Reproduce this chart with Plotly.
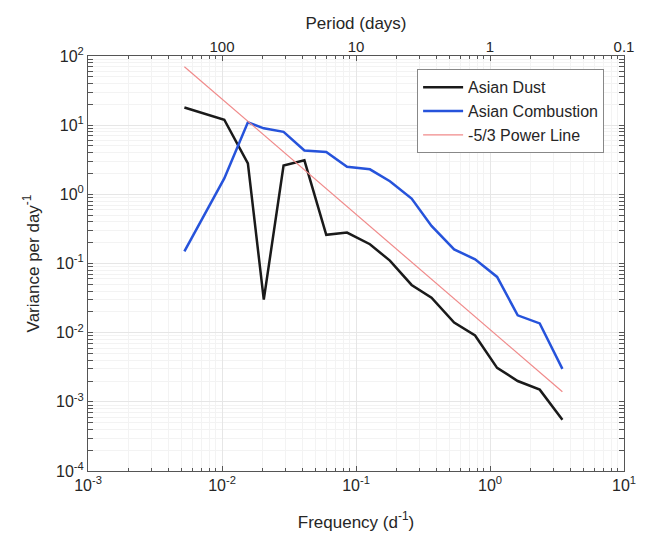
import plotly.graph_objects as go

freq = [0.00524, 0.0104, 0.0156, 0.0205, 0.0288, 0.0412, 0.060, 0.0857, 0.127,
        0.179, 0.26, 0.366, 0.54, 0.774, 1.13, 1.61, 2.35, 3.47]
asian_dust = [18, 12, 2.8, 0.03, 2.6, 3.1, 0.26, 0.28, 0.19,
              0.11, 0.049, 0.032, 0.014, 0.0091, 0.0031, 0.002, 0.0015, 0.00055]
asian_comb = [0.15, 1.7, 11, 9, 8, 4.3, 4.1, 2.5, 2.3,
              1.55, 0.87, 0.35, 0.16, 0.115, 0.064, 0.0178, 0.0136, 0.003]
power_f = [0.00524, 3.47]
power_v = [70, 0.0014]

x_tickvals = [0.001, 0.01, 0.1, 1, 10]
x_ticktext = ["10<sup>-3</sup>", "10<sup>-2</sup>", "10<sup>-1</sup>", "10<sup>0</sup>", "10<sup>1</sup>"]
y_tickvals = [1e-4, 1e-3, 1e-2, 1e-1, 1, 10, 100]
y_ticktext = ["10<sup>-4</sup>", "10<sup>-3</sup>", "10<sup>-2</sup>", "10<sup>-1</sup>",
              "10<sup>0</sup>", "10<sup>1</sup>", "10<sup>2</sup>"]
period_vals = [0.01, 0.1, 1, 10]
period_text = ["100", "10", "1", "0.1"]

x_minor = [m * d for d in x_tickvals[:-1] for m in range(2, 10)]
y_minor = [m * d for d in y_tickvals[:-1] for m in range(2, 10)]

FONT = "Liberation Sans, Arial, sans-serif"
TXT = "#262626"
AX = "#555555"

fig = go.Figure()
fig.add_trace(go.Scatter(x=freq, y=asian_dust, mode="lines", name="Asian Dust",
                         line=dict(color="#1a1a1a", width=2.5)))
fig.add_trace(go.Scatter(x=freq, y=asian_comb, mode="lines", name="Asian Combustion",
                         line=dict(color="#2653db", width=2.5)))
fig.add_trace(go.Scatter(x=power_f, y=power_v, mode="lines", name="-5/3 Power Line",
                         line=dict(color="#f08a8a", width=1.2)))
fig.add_trace(go.Scatter(x=power_f, y=power_v, xaxis="x2", mode="lines",
                         line=dict(width=0), showlegend=False, hoverinfo="skip"))


def axis_common(minor_vals):
    return dict(type="log", showline=True, linecolor=AX, linewidth=1,
                ticks="inside", ticklen=5, tickcolor=AX,
                showgrid=True, gridcolor="#e6e6e6", gridwidth=1, zeroline=False,
                tickfont=dict(family=FONT, size=16, color=TXT),
                minor=dict(tickmode="array", tickvals=minor_vals, ticks="inside",
                           ticklen=3, tickcolor=AX,
                           showgrid=True, gridcolor="#f3f3f3", gridwidth=1))


fig.update_layout(
    width=640, height=535,
    margin=dict(l=80, r=18, t=48, b=72),
    paper_bgcolor="white", plot_bgcolor="white",
    font=dict(family=FONT, color=TXT),
    xaxis=dict(range=[-3, 1], mirror="allticks", tickvals=x_tickvals, ticktext=x_ticktext,
               title=dict(text="Frequency (d<sup>-1</sup>)", font=dict(size=17, family=FONT, color=TXT), standoff=22),
               **axis_common(x_minor)),
    xaxis2=dict(type="log", range=[-3, 1], overlaying="x", side="top",
                tickvals=period_vals, ticktext=period_text, ticks="",
                showgrid=False, showline=False, zeroline=False,
                tickfont=dict(family=FONT, size=15, color=TXT),
                title=dict(text="Period (days)", font=dict(size=17, family=FONT, color=TXT), standoff=4)),
    yaxis=dict(range=[-4, 2], mirror="allticks", tickvals=y_tickvals, ticktext=y_ticktext,
               title=dict(text="Variance per day<sup>-1</sup>", font=dict(size=17, family=FONT, color=TXT), standoff=12),
               **axis_common(y_minor)),
    legend=dict(x=0.614, y=0.968, xanchor="left", yanchor="top",
                bgcolor="white", bordercolor="#888888", borderwidth=1,
                font=dict(family=FONT, size=16, color=TXT),
                tracegroupgap=0, itemwidth=40),
    showlegend=True,
)

fig.write_html("out.html")
